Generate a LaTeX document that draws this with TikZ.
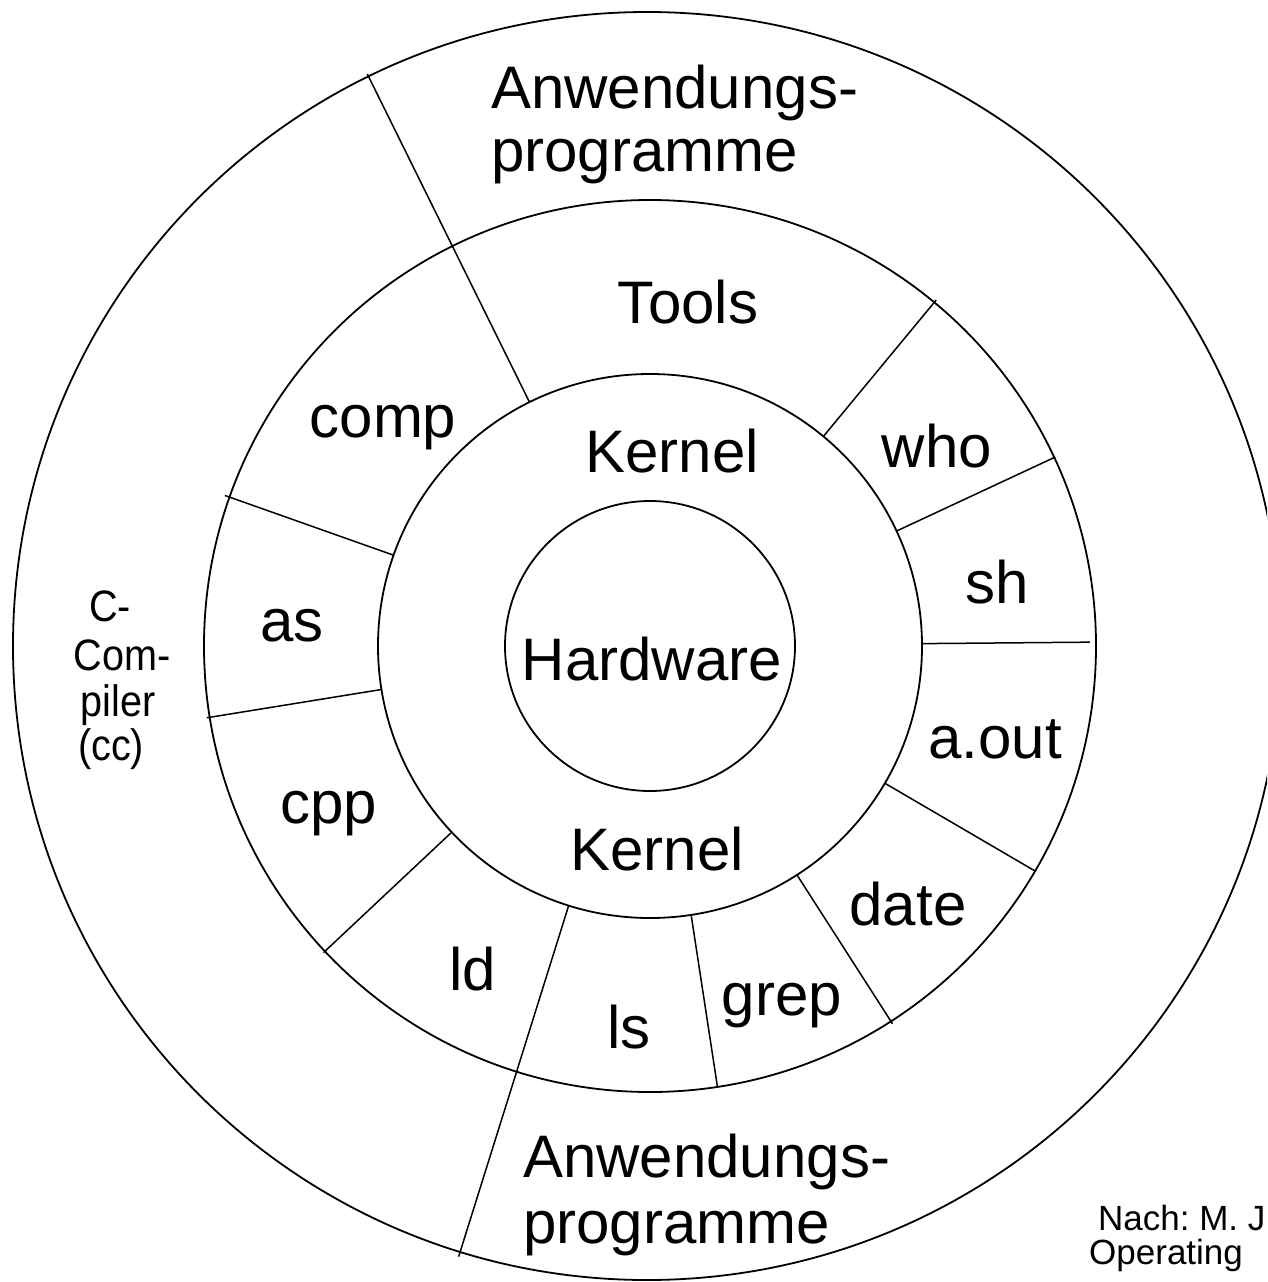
\documentclass[tikz,border=0pt]{standalone}
\usepackage{fontspec}
\setmainfont{Liberation Sans}
\usetikzlibrary{calc}
\frenchspacing
\begin{document}
\begin{tikzpicture}[x=1pt, y=-1pt,
  ring/.style={line width=1.8pt},
  spoke/.style={line width=1.5pt},
  big/.style={font=\fontsize{60}{69}\selectfont, inner sep=0pt, anchor=base},
  bigleft/.style={big, anchor=base west},
  small/.style={font=\fontsize{44}{50}\selectfont, inner sep=0pt, anchor=base,
                transform shape, xscale=0.9},
  note/.style={font=\fontsize{35}{40}\selectfont, inner sep=0pt, anchor=base west}]
\useasboundingbox (0,0) rectangle (1267,1282);
\clip (0,0) rectangle (1267,1282);

% centre of the rings
\coordinate (c) at (650,646);
\coordinate (co) at (647,646);

% rings: hardware, kernel, tools, applications
\draw[ring] (c) circle[radius=145];
\draw[ring] (c) circle[radius=272];
\draw[ring] (c) circle[radius=446];
\draw[ring] (co) circle[radius=634];

% separators between the programs
\draw[spoke] ($(c)+(-116.3:272)$) -- ($(c)+(-116.3:638)$);
\draw[spoke] ($(c)+(-50.4:272)$) -- ($(c)+(-50.4:449)$);
\draw[spoke] ($(c)+(-25:272)$) -- ($(c)+(-25:447)$);
\draw[spoke] ($(c)+(-0.5:272)$) -- ($(c)+(-0.5:440)$);
\draw[spoke] ($(c)+(30.3:272)$) -- ($(c)+(30.3:447)$);
\draw[spoke] ($(c)+(57.3:272)$) -- ($(c)+(57.3:449)$);
\draw[spoke] ($(c)+(81.3:272)$) -- ($(c)+(81.3:447)$);
\draw[spoke] ($(c)+(107.4:272)$) -- ($(c)+(107.4:640)$);
\draw[spoke] ($(c)+(136.8:272)$) -- ($(c)+(136.8:448)$);
\draw[spoke] ($(c)+(170.8:272)$) -- ($(c)+(170.8:449)$);
\draw[spoke] ($(c)+(-160.5:272)$) -- ($(c)+(-160.5:451)$);

% labels
\node[bigleft] (app1a) at (491,108) {Anwendungs-};
\node[bigleft] (app1b) at (491,171) {programme};
\node[big] (tools) at (688,323) {Tools};
\node[big] (comp) at (383,437) {comp};
\node[big] (kern1) at (672,472) {Kernel};
\node[big] (who) at (937,467) {who};
\node[big] (sh) at (997,603) {sh};
\node[big] (as) at (292,641) {as};
\node[big] (hw) at (652,680) {Hardware};
\node[big] (aout) at (995,758) {a.out};
\node[big] (cpp) at (329,823) {cpp};
\node[big] (kern2) at (657,870) {Kernel};
\node[big] (date) at (908,925) {date};
\node[big] (ld) at (473,990) {ld};
\node[big] (grep) at (782,1015) {grep};
\node[big] (ls) at (629,1048) {ls};
\node[bigleft] (app2a) at (523,1177) {Anwendungs-};
\node[bigleft] (app2b) at (523,1243) {programme};

\node[small] (cc1) at (110,621) {C-};
\node[small] (cc2) at (122,670) {Com-};
\node[small] (cc3) at (118,716) {piler};
\node[small] (cc4) at (111,760) {(cc)};

\node[note] (src1) at (1098,1230) {Nach: M. J.};
\node[note] (src2) at (1089,1264) {Operating};
\end{tikzpicture}
\end{document}
